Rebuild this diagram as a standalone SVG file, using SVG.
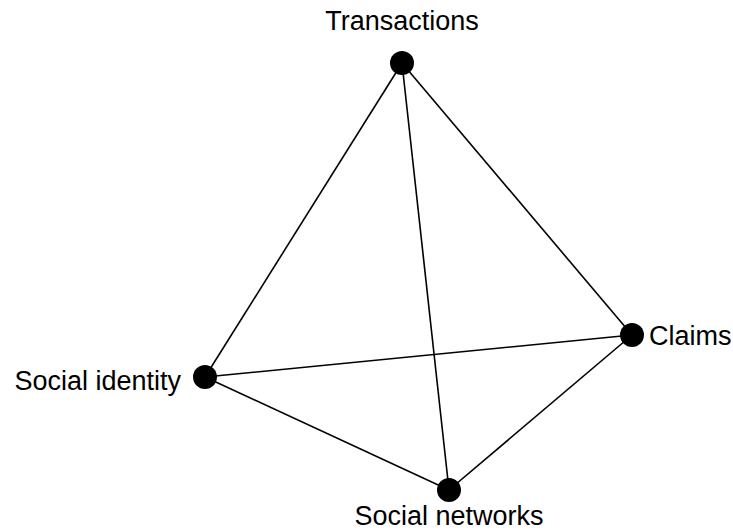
<svg xmlns="http://www.w3.org/2000/svg" width="733" height="531" viewBox="0 0 733 531">
<style>
.edge{stroke:#000;stroke-width:1.6;fill:none}
.dot{fill:#000}
.lbl{font-family:"Liberation Sans",Arial,sans-serif;font-size:27px;fill:#000}
</style>
<rect width="733" height="531" fill="#fff"/>
<g id="connectors">
<line class="edge" x1="402" y1="63" x2="632" y2="335"/>
<line class="edge" x1="402" y1="63" x2="205" y2="377"/>
<line class="edge" x1="402" y1="63" x2="449" y2="490"/>
<line class="edge" x1="205" y1="377" x2="632" y2="335"/>
<line class="edge" x1="205" y1="377" x2="449" y2="490"/>
<line class="edge" x1="632" y1="335" x2="449" y2="490"/>
</g>
<g id="transactions">
<circle class="dot" cx="402" cy="63" r="12"/>
<text class="lbl" x="402" y="30" text-anchor="middle">Transactions</text>
</g>
<g id="claims">
<circle class="dot" cx="632" cy="335" r="12"/>
<text class="lbl" x="649" y="345">Claims</text>
</g>
<g id="social-identity">
<circle class="dot" cx="205" cy="377" r="12"/>
<text class="lbl" x="181" y="390" text-anchor="end">Social identity</text>
</g>
<g id="social-networks">
<circle class="dot" cx="449" cy="490" r="12"/>
<text class="lbl" x="449" y="525" text-anchor="middle">Social networks</text>
</g>
</svg>
